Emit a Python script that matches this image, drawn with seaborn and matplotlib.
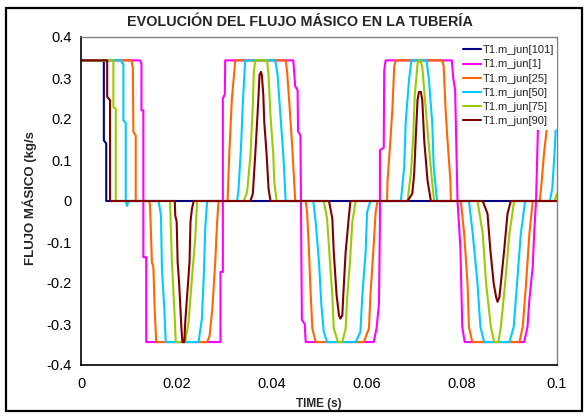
import matplotlib
matplotlib.use("Agg")
import matplotlib.pyplot as plt
import seaborn as sns
import pandas as pd
from matplotlib.patches import Rectangle

# ---------------- data (time in s, mass flow in kg/s) ----------------
series_names = ["T1.m_jun[101]", "T1.m_jun[1]", "T1.m_jun[25]",
                "T1.m_jun[50]", "T1.m_jun[75]", "T1.m_jun[90]"]
series_colors = ["#000080", "#FF00FF", "#FF6600", "#00CCFF", "#99CC00", "#800000"]

t_j101 = [0, 0.0048, 0.0048, 0.0053, 0.0053, 0.1]
v_j101 = [0.343, 0.343, 0.148, 0.14, 0, 0]

t_j1 = [0, 0.0124, 0.0127, 0.0127, 0.0131, 0.0131, 0.0137, 0.0137,
        0.0293, 0.0293, 0.0298, 0.0298, 0.0302, 0.0303,
        0.0446, 0.0450, 0.0455, 0.0456, 0.0461, 0.0464, 0.0470, 0.0472,
        0.0615, 0.0621, 0.0626, 0.0628, 0.0628, 0.0636, 0.0637, 0.0640,
        0.0779, 0.0782, 0.0786, 0.0788, 0.0791, 0.0797, 0.0801, 0.0806,
        0.0931, 0.0938, 0.0942, 0.0949, 0.0952, 0.0956, 0.0960, 0.0966, 0.0970, 0.1]
v_j1 = [0.343, 0.343, 0.335, 0.221, 0.221, -0.137, -0.137, -0.344,
        -0.344, -0.173, -0.173, 0.25, 0.26, 0.343,
        0.343, 0.28, 0.27, 0.17, 0.16, -0.29, -0.30, -0.344,
        -0.344, -0.31, -0.25, -0.05, 0.124, 0.13, 0.319, 0.343,
        0.343, 0.30, 0.27, 0.16, 0.0, -0.112, -0.307, -0.344,
        -0.344, -0.307, -0.24, -0.16, -0.08, 0.0, 0.18, 0.26, 0.343, 0.343]

t_j25 = [0, 0.0106, 0.0109, 0.0110, 0.0115, 0.0115,
         0.0143, 0.0145, 0.0149, 0.0152, 0.0155, 0.0158,
         0.0265, 0.0270, 0.0276, 0.0282, 0.0286, 0.0289,
         0.0308, 0.0309, 0.0312, 0.0317, 0.0322, 0.0324,
         0.0430, 0.0433, 0.0437, 0.0444, 0.0450,
         0.0472, 0.0475, 0.0479, 0.0482, 0.0486, 0.0493,
         0.0594, 0.0605, 0.0608, 0.0614, 0.0619, 0.0623,
         0.0643, 0.0644, 0.0650, 0.0654, 0.0658, 0.0661,
         0.0759, 0.0762, 0.0766, 0.0770, 0.0776, 0.0777,
         0.0798, 0.0805, 0.0812, 0.0815, 0.0822,
         0.0921, 0.0928, 0.0935, 0.0942, 0.0949,
         0.0964, 0.0968, 0.0973, 0.0978, 0.0985, 0.0993, 0.0997, 0.1]
v_j25 = [0.343, 0.343, 0.324, 0.168, 0.160, 0.0,
         0.0, -0.01, -0.15, -0.16, -0.27, -0.344,
         -0.344, -0.33, -0.262, -0.149, -0.05, 0.0,
         0.0, 0.038, 0.128, 0.25, 0.315, 0.343,
         0.343, 0.315, 0.25, 0.128, 0.0,
         0.0, -0.027, -0.124, -0.214, -0.311, -0.344,
         -0.344, -0.311, -0.23, -0.124, -0.027, 0.0,
         0.0, 0.05, 0.148, 0.221, 0.327, 0.343,
         0.343, 0.327, 0.221, 0.148, 0.05, 0.0,
         0.0, -0.08, -0.201, -0.307, -0.344,
         -0.344, -0.307, -0.201, -0.08, 0.0,
         0.0, 0.05, 0.12, 0.17, 0.25, 0.32, 0.343, 0.343]

t_j50 = [0, 0.0084, 0.0087, 0.0089, 0.0089, 0.0094, 0.0094, 0.0097, 0.0099,
         0.0163, 0.0168, 0.0170, 0.0175, 0.0178,
         0.0247, 0.0254, 0.0258, 0.0261, 0.0265,
         0.0328, 0.0331, 0.0336, 0.0340, 0.0345,
         0.0408, 0.0413, 0.0419, 0.0425, 0.0430,
         0.0488, 0.0493, 0.0500, 0.0505, 0.0510, 0.0517,
         0.0577, 0.0587, 0.0591, 0.0598, 0.0601, 0.0608,
         0.0672, 0.0679, 0.0682, 0.0689, 0.0694,
         0.0726, 0.0731, 0.0738, 0.0741, 0.0748,
         0.0815, 0.0823, 0.0833, 0.0839, 0.0847,
         0.0900, 0.0909, 0.0916, 0.0924, 0.0933,
         0.0985, 0.0990, 0.0995, 0.1]
v_j50 = [0.343, 0.343, 0.335, 0.335, 0.197, 0.19, 0.0, -0.012, 0.0,
         0.0, -0.035, -0.165, -0.262, -0.344,
         -0.344, -0.287, -0.181, -0.067, 0.0,
         0.0, 0.03, 0.128, 0.241, 0.343,
         0.343, 0.307, 0.209, 0.112, 0.0,
         0.0, -0.051, -0.149, -0.254, -0.319, -0.344,
         -0.344, -0.319, -0.23, -0.124, -0.027, 0.0,
         0.0, 0.083, 0.189, 0.294, 0.343,
         0.343, 0.294, 0.189, 0.083, 0.0,
         0.0, -0.08, -0.201, -0.307, -0.344,
         -0.344, -0.307, -0.201, -0.08, 0.0,
         0.0, 0.03, 0.12, 0.25]

t_j75 = [0, 0.0068, 0.0068, 0.0073, 0.0073,
         0.0187, 0.0191, 0.0197, 0.0199,
         0.0219, 0.0226, 0.0233, 0.0240, 0.0244,
         0.0342, 0.0349, 0.0356, 0.0361, 0.0363, 0.0366,
         0.0391, 0.0394, 0.0398, 0.0404, 0.0406, 0.0411,
         0.0510, 0.0517, 0.0523, 0.0528, 0.0531, 0.0540,
         0.0549, 0.0556, 0.0559, 0.0565, 0.0570, 0.0577,
         0.0686, 0.0693, 0.0698, 0.0701, 0.0707, 0.0710,
         0.0713, 0.0717, 0.0724, 0.0731, 0.0738, 0.0742,
         0.0833, 0.0844, 0.0851, 0.0861, 0.0868,
         0.0877, 0.0882, 0.0891, 0.0900, 0.0910,
         0.0995, 0.1]
v_j75 = [0.343, 0.343, 0.229, 0.225, 0.0,
         0.0, -0.149, -0.287, -0.344,
         -0.344, -0.295, -0.189, -0.091, 0.0,
         0.0, 0.022, 0.112, 0.233, 0.315, 0.343,
         0.343, 0.307, 0.209, 0.112, 0.046, 0.0,
         0.0, -0.043, -0.149, -0.23, -0.311, -0.344,
         -0.344, -0.311, -0.238, -0.149, -0.051, 0.0,
         0.0, 0.067, 0.156, 0.254, 0.335, 0.343,
         0.343, 0.327, 0.229, 0.132, 0.042, 0.0,
         0.0, -0.08, -0.201, -0.307, -0.344,
         -0.344, -0.307, -0.201, -0.08, 0.0,
         0.0, 0.018]

t_j90 = [0, 0.0055, 0.0055, 0.0061, 0.0061,
         0.0197, 0.0198, 0.0201, 0.0203, 0.0206, 0.0211, 0.0213,
         0.0217, 0.0219, 0.0223, 0.0228, 0.0230, 0.0233, 0.0237,
         0.0356, 0.0361, 0.0366, 0.0370, 0.0373, 0.0375, 0.0378,
         0.0380, 0.0383, 0.0385, 0.0390, 0.0394, 0.0398,
         0.0521, 0.0528, 0.0531, 0.0537, 0.0542, 0.0545,
         0.0549, 0.0551, 0.0556, 0.0563, 0.0566,
         0.0686, 0.0696, 0.0700, 0.0703, 0.0707, 0.0710,
         0.0714, 0.0717, 0.0721, 0.0728, 0.0735,
         0.0844, 0.0854, 0.0860, 0.0867, 0.0872, 0.0875,
         0.0879, 0.0882, 0.0889, 0.0896, 0.0903, 0.1]
v_j90 = [0.343, 0.343, 0.254, 0.246, 0.0,
         0.0, -0.035, -0.051, -0.149, -0.197, -0.311, -0.344,
         -0.344, -0.295, -0.23, -0.149, -0.051, -0.019, 0.0,
         0.0, 0.018, 0.112, 0.193, 0.258, 0.307, 0.315,
         0.307, 0.258, 0.193, 0.112, 0.03, 0.0,
         0.0, -0.043, -0.124, -0.23, -0.279, -0.287,
         -0.279, -0.23, -0.124, -0.035, 0.0,
         0.0, 0.018, 0.067, 0.148, 0.246, 0.266,
         0.266, 0.246, 0.148, 0.05, 0.0,
         0.0, -0.031, -0.12, -0.201, -0.234, -0.246,
         -0.234, -0.201, -0.12, -0.031, 0.0, 0.0]

x_ticks = [0, 0.02, 0.04, 0.06, 0.08, 0.1]
x_tick_labels = ["0", "0.02", "0.04", "0.06", "0.08", "0.1"]
y_ticks = [0.4, 0.3, 0.2, 0.1, 0, -0.1, -0.2, -0.3, -0.4]
y_tick_labels = ["0.4", "0.3", "0.2", "0.1", "0", "-0.1", "-0.2", "-0.3", "-0.4"]

# ---------------- build long table ----------------
all_t = [t_j101, t_j1, t_j25, t_j50, t_j75, t_j90]
all_v = [v_j101, v_j1, v_j25, v_j50, v_j75, v_j90]
frames = []
for name, tt, vv in zip(series_names, all_t, all_v):
    frames.append(pd.DataFrame({"t": tt, "v": vv, "serie": name}))
df = pd.concat(frames, ignore_index=True)

# ---------------- style ----------------
sns.set_style("white")
plt.rcParams["font.family"] = ["Liberation Sans", "DejaVu Sans"]

W, H = 586, 417
fig = plt.figure(figsize=(W / 100, H / 100), dpi=100)
fig.patch.set_facecolor("white")

ax_l, ax_r, ax_t, ax_b = 81, 557, 37, 365
ax = fig.add_axes([ax_l / W, 1 - ax_b / H, (ax_r - ax_l) / W, (ax_b - ax_t) / H])

sns.lineplot(data=df, x="t", y="v", hue="serie", hue_order=series_names,
             palette=series_colors, sort=False, estimator=None,
             linewidth=1.5, ax=ax)

ax.set_xlim(0, 0.1)
ax.set_ylim(-0.4, 0.4)
ax.set_xticks(x_ticks)
ax.set_xticklabels(x_tick_labels)
ax.set_yticks(y_ticks)
ax.set_yticklabels(y_tick_labels)
ax.set_xlabel("")
ax.set_ylabel("")
ax.tick_params(axis="both", direction="out", length=4, width=1,
               labelsize=10.5, colors="black", pad=3)
ax.tick_params(axis="x", pad=5)

for s in ["left", "bottom"]:
    ax.spines[s].set_color("black")
    ax.spines[s].set_linewidth(1.2)
for s in ["top", "right"]:
    ax.spines[s].set_color("#808080")
    ax.spines[s].set_linewidth(1.0)
ax.grid(False)

leg = ax.legend(loc="upper right", bbox_to_anchor=(1.0, 0.985), frameon=True,
                facecolor="white", edgecolor="none", framealpha=1,
                fontsize=8, handlelength=1.6, handletextpad=0.1,
                labelspacing=0.38, borderpad=0.3, borderaxespad=0.0)
for line in leg.get_lines():
    line.set_linewidth(1.5)

# titles
fig.text(300 / W, 1 - 22 / H, "EVOLUCIÓN DEL FLUJO MÁSICO EN LA TUBERÍA",
         ha="center", va="center", fontsize=10.4, fontweight="bold")
fig.text(30 / W, 1 - 198 / H, "FLUJO MÁSICO (kg/s", rotation=90,
         ha="center", va="center", fontsize=9.5, fontweight="bold")
fig.text(319 / W, 1 - 404 / H, "TIME (s)", ha="center", va="center",
         fontsize=8.5, fontweight="bold")

# outer chart frame
fig.patches.append(Rectangle((6 / W, 1 - 411 / H), 576 / W, 403 / H,
                             transform=fig.transFigure, fill=False,
                             edgecolor="black", linewidth=1.6))

fig.savefig("out.png", dpi=100, facecolor="white")
